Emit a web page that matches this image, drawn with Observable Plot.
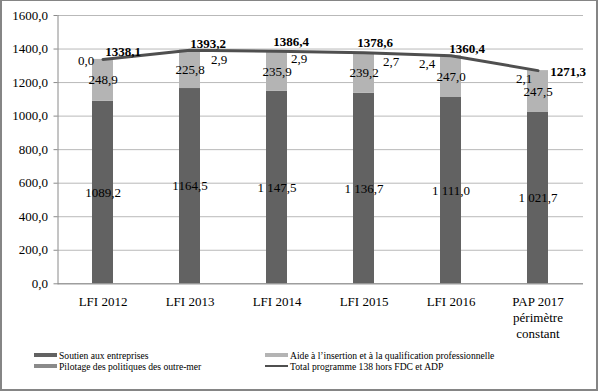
<!DOCTYPE html>
<html><head><meta charset="utf-8">
<script src="https://cdn.jsdelivr.net/npm/d3@7"></script>
<script src="https://cdn.jsdelivr.net/npm/@observablehq/plot@0.6"></script>
<style>
body{margin:0;background:#fff;}
#wrap{position:relative;width:598px;height:391px;background:#fff;font-family:"Liberation Serif","Times New Roman",Tinos,"DejaVu Serif","Noto Serif",serif;overflow:hidden;}
#chart{position:absolute;left:0;top:0;}
#border{position:absolute;left:0;top:0;width:598px;height:391px;box-sizing:border-box;border:2px solid #858585;border-top-width:1px;pointer-events:none;}
.leg{position:absolute;font-size:9.6px;color:#000;white-space:nowrap;line-height:11px;}
.sw{position:absolute;width:23px;height:4px;}
</style></head>
<body>
<div id="wrap"><div id="chart"></div><div id="legend"></div><div id="border"></div></div>
<script>
const categories = ["LFI 2012","LFI 2013","LFI 2014","LFI 2015","LFI 2016","PAP 2017"];
const categoryLabels = ["LFI 2012","LFI 2013","LFI 2014","LFI 2015","LFI 2016","PAP 2017\npérimètre\nconstant"];
const soutien = [1089.2,1164.5,1147.5,1136.7,1111.0,1021.7];
const aide = [248.9,225.8,235.9,239.2,247.0,247.5];
const pilotage = [0.0,2.9,2.9,2.7,2.4,2.1];
const total = [1338.1,1393.2,1386.4,1378.6,1360.4,1271.3];
const soutienLabels = ["1089,2","1164,5","1 147,5","1 136,7","1 111,0","1 021,7"];
const aideLabels = ["248,9","225,8","235,9","239,2","247,0","247,5"];
const pilotageLabels = ["0,0","2,9","2,9","2,7","2,4","2,1"];
const totalLabels = ["1338,1","1393,2","1386,4","1378,6","1360,4","1271,3"];
const seriesNames = ["Soutien aux entreprises","Aide à l’insertion et à la qualification professionnelle","Pilotage des politiques des outre-mer","Total programme 138 hors FDC et ADP"];
const yTicks = [0,200,400,600,800,1000,1200,1400,1600];

const colors = ["#626262","#b4b4b4","#8a8a8a","#4f4f4f"];
const fmt = d => d.toFixed(1).replace(".", ",");

const rows = [];
categories.forEach((c,i)=>{
  rows.push({cat:c, s:seriesNames[0], v:soutien[i]});
  rows.push({cat:c, s:seriesNames[1], v:aide[i]});
  rows.push({cat:c, s:seriesNames[2], v:pilotage[i]});
});

// label placement offsets (layout only)
const pilotDx = [-17,29,22,27,-24,-14];
const pilotDy = [1,9.5,8,9.5,8,8];
const totalDx = [20,18,14,11,16,30];
const totalDy = [-8,-6.5,-9,-10,-7,1];

const font = '"Liberation Serif","Times New Roman",Tinos,"DejaVu Serif","Noto Serif",serif';
const marks = [
  Plot.gridY(yTicks, {stroke:"#b9b9b9", strokeOpacity:1}),
  Plot.barY(rows, {x:"cat", y:"v", fill:"s"}),
  Plot.ruleY([0], {stroke:"#8a8a8a"}),
  Plot.frame({anchor:"left", stroke:"#8a8a8a"}),
  Plot.axisY({ticks:yTicks, tickFormat:fmt, tickSize:4, tickPadding:6, fontSize:13, stroke:"#8a8a8a", label:null}),
  Plot.line(categories.map((c,i)=>({cat:c, t:total[i]})), {x:"cat", y:"t", stroke:colors[3], strokeWidth:3}),
  Plot.text(categories.map((c,i)=>({cat:c, lab:categoryLabels[i]})), {x:"cat", y:()=>0, text:"lab", lineAnchor:"top", dy:11, lineHeight:1.22, fontSize:13}),
  Plot.text(categories.map((c,i)=>({cat:c, y:soutien[i]/2, lab:soutienLabels[i]})), {x:"cat", y:"y", text:"lab", fontSize:13}),
  Plot.text(categories.map((c,i)=>({cat:c, y:soutien[i]+aide[i]/2, lab:aideLabels[i]})), {x:"cat", y:"y", text:"lab", fontSize:13}),
];
categories.forEach((c,i)=>{
  marks.push(Plot.text([{cat:c, y:total[i], lab:pilotageLabels[i]}], {x:"cat", y:"y", text:"lab", fontSize:13, dx:pilotDx[i], dy:pilotDy[i]}));
  marks.push(Plot.text([{cat:c, y:total[i], lab:totalLabels[i]}], {x:"cat", y:"y", text:"lab", fontSize:13, fontWeight:"bold", dx:totalDx[i], dy:totalDy[i]}));
});

const plot = Plot.plot({
  width:598, height:340,
  marginLeft:57.5, marginRight:15, marginTop:15, marginBottom:56.7,
  style:{fontFamily:font, fontSize:"13px", color:"#000", background:"transparent"},
  x:{domain:categories, paddingInner:0.76, paddingOuter:0.38, axis:null},
  y:{domain:[0,1600], axis:null},
  color:{domain:seriesNames.slice(0,3), range:colors.slice(0,3)},
  marks
});
document.getElementById("chart").appendChild(plot);

// legend
const leg = document.getElementById("legend");
const items = [
  {i:0, x:34, y:355.5},
  {i:1, x:265, y:355.5},
  {i:2, x:34, y:366.5},
  {i:3, x:265, y:366.5}
];
items.forEach(({i,x,y})=>{
  const sw = document.createElement("div");
  sw.className = "sw";
  sw.style.left = x+"px";
  if (i===3) { sw.style.height="2.5px"; sw.style.top=(y-1.75)+"px"; }
  else { sw.style.top=(y-2.5)+"px"; }
  sw.style.background = colors[i];
  leg.appendChild(sw);
  const t = document.createElement("div");
  t.className = "leg";
  t.style.left = (x+25)+"px";
  t.style.top = (y-6)+"px";
  t.textContent = seriesNames[i];
  leg.appendChild(t);
});
</script>
</body></html>
